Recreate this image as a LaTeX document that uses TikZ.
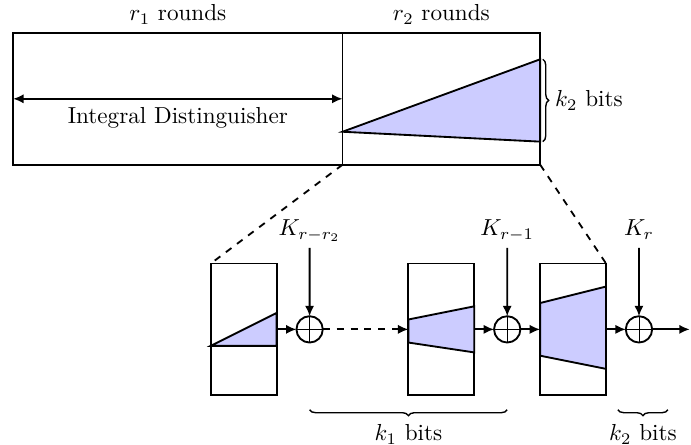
\documentclass[tikz,border=0pt]{standalone}
\usepackage{tikz}
\usetikzlibrary{positioning, arrows.meta, calc, decorations.pathreplacing}
\usepackage{amsmath}
\definecolor{mylav}{RGB}{204,204,255}

\begin{document}
\begin{tikzpicture}[thick, >={Latex[length=4.5pt, width=4pt]}, node distance=0.3cm,
  blockbox/.style={rectangle, draw, outer sep=0pt, inner sep=0pt},
  statebox/.style={blockbox, minimum width=1cm, minimum height=2cm},
  xorop/.style={circle, draw, minimum size=0.4cm, inner sep=0pt, outer sep=0pt,
    path picture={\draw[thin] (path picture bounding box.north) -- (path picture bounding box.south)
      (path picture bounding box.west) -- (path picture bounding box.east);}},
  keylab/.style={anchor=base, inner sep=0pt, text depth=0.17cm},
  bitbrace/.style={semithick, decorate, decoration={brace, amplitude=0.09cm}}]

\useasboundingbox (-0.2,-4.25) rectangle (10.29,2.5);

% Top - distinguisher + key recovery
\node[blockbox, minimum width=5cm, minimum height=2cm, anchor=south west] (dist) at (0,0) {};
\node[blockbox, minimum width=3cm, minimum height=2cm, right=0pt of dist] (keyrec) {};
\node[above=0pt of dist] (r1lab) {$r_1$ rounds};
\node[above=0pt of keyrec] (r2lab) {$r_2$ rounds};
\draw[<->] (dist.west) -- (dist.east) node[midway, below] (distlab) {Integral Distinguisher};
\draw[fill=mylav] ($(keyrec.south west)+(0,0.5)$) -- ($(keyrec.south east)+(0,1.6)$) -- ($(keyrec.south east)+(0,0.35)$) -- cycle;
\draw[bitbrace] ($(keyrec.south east)+(0.04,1.6)$) -- ($(keyrec.south east)+(0.04,0.35)$) node[midway, right=0.06cm] (k2top) {$k_2$ bits};

% Bottom - last rounds
\node[statebox] (b1) at (3.5,-2.5) {};
\node[xorop, right=of b1] (x1) {};
\node[statebox, right=1.3cm of x1] (b2) {};
\node[xorop, right=of b2] (x2) {};
\node[statebox, right=of x2] (b3) {};
\node[xorop, right=of b3] (x3) {};
\coordinate[right=0.57cm of x3] (out);

\draw[fill=mylav] ($(b1.south west)+(0,0.75)$) -- ($(b1.south east)+(0,1.25)$) -- ($(b1.south east)+(0,0.75)$) -- cycle;
\draw[fill=mylav] ($(b2.south west)+(0,0.8)$) -- ($(b2.south west)+(0,1.15)$) -- ($(b2.south east)+(0,1.35)$) -- ($(b2.south east)+(0,0.65)$) -- cycle;
\draw[fill=mylav] ($(b3.south west)+(0,0.6)$) -- ($(b3.south west)+(0,1.4)$) -- ($(b3.south east)+(0,1.65)$) -- ($(b3.south east)+(0,0.4)$) -- cycle;

\draw[dashed] (keyrec.south west) -- (b1.north west);
\draw[dashed] (keyrec.south east) -- (b3.north east);

% Round keys
\node[keylab] (kA) at (4.5,-1.08) {$K_{r-r_2}$};
\node[keylab] (kB) at (7.5,-1.08) {$K_{r-1}$};
\node[keylab] (kC) at (9.5,-1.08) {$K_r$};
\draw[->] (kA) -- (x1);
\draw[->] (kB) -- (x2);
\draw[->] (kC) -- (x3);

\draw[->] (b1) -- (x1);
\draw[dashed, ->] (x1) -- (b2);
\draw[->] (b2) -- (x2);
\draw[->] (x2) -- (b3);
\draw[->] (b3) -- (x3);
\draw[->] (x3) -- (out);

% Braces
\draw[bitbrace] ($(x2)+(0,-1.22)$) -- ($(x1)+(0,-1.22)$) node[midway, below=0.1cm] (k1lab) {$k_1$ bits};
\draw[bitbrace] (9.94,-3.72) -- (9.18,-3.72) node[midway, below=0.1cm] (k2lab) {$k_2$ bits};

\end{tikzpicture}
\end{document}
